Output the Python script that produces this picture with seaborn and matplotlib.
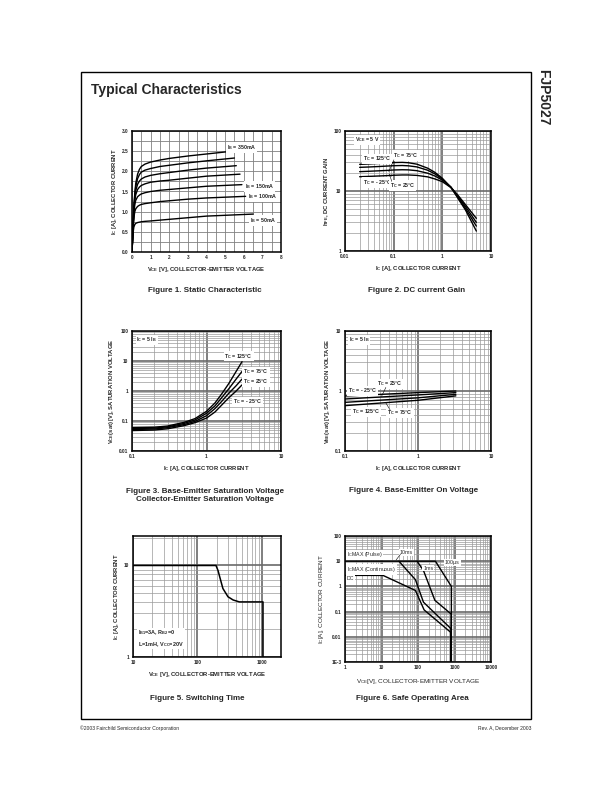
import numpy as np
import pandas as pd
import matplotlib
matplotlib.use('Agg')
import matplotlib.pyplot as plt
import seaborn as sns
from matplotlib.ticker import FixedLocator, LogLocator, NullFormatter, MultipleLocator
from matplotlib.patches import Rectangle

sns.set_theme(style='white')
plt.rcParams['font.family'] = ['Liberation Sans', 'DejaVu Sans']
plt.rcParams['mathtext.default'] = 'regular'

# ---------------- Figure 1 data: Static characteristic ----------------
f1_v_350 = [0, 0.05, 0.1, 0.15, 0.2, 0.3, 0.4, 0.5, 0.7, 1.0, 1.5, 2.0, 3.0, 4.0, 5.2]
f1_i_350 = [0, 0.55, 1.1, 1.45, 1.7, 1.93, 2.05, 2.12, 2.18, 2.23, 2.28, 2.32, 2.38, 2.43, 2.49]
f1_v_300 = [0, 0.05, 0.1, 0.15, 0.2, 0.3, 0.4, 0.5, 0.7, 1.0, 1.5, 2.0, 3.0, 4.0, 5.5]
f1_i_300 = [0, 0.55, 1.1, 1.42, 1.62, 1.82, 1.92, 1.98, 2.03, 2.07, 2.12, 2.15, 2.21, 2.26, 2.33]
f1_v_250 = [0, 0.05, 0.1, 0.15, 0.2, 0.3, 0.4, 0.5, 0.7, 1.0, 1.5, 2.0, 3.0, 4.0, 5.6]
f1_i_250 = [0, 0.55, 1.05, 1.35, 1.52, 1.68, 1.76, 1.81, 1.86, 1.9, 1.94, 1.97, 2.03, 2.08, 2.14]
f1_v_200 = [0, 0.05, 0.1, 0.15, 0.2, 0.3, 0.4, 0.5, 0.7, 1.0, 1.5, 2.0, 3.0, 4.0, 5.8]
f1_i_200 = [0, 0.5, 1.0, 1.28, 1.42, 1.55, 1.61, 1.65, 1.69, 1.73, 1.76, 1.78, 1.83, 1.88, 1.93]
f1_v_150 = [0, 0.05, 0.1, 0.15, 0.2, 0.3, 0.4, 0.5, 0.7, 1.0, 1.5, 2.0, 3.0, 4.0, 5.9]
f1_i_150 = [0, 0.5, 0.95, 1.18, 1.28, 1.37, 1.41, 1.44, 1.47, 1.5, 1.53, 1.55, 1.59, 1.63, 1.67]
f1_v_100 = [0, 0.05, 0.1, 0.15, 0.2, 0.3, 0.4, 0.5, 0.7, 1.0, 1.5, 2.0, 3.0, 4.0, 6.1]
f1_i_100 = [0, 0.5, 0.85, 1.0, 1.07, 1.13, 1.16, 1.18, 1.2, 1.22, 1.25, 1.27, 1.31, 1.34, 1.38]
f1_v_50 = [0, 0.05, 0.1, 0.15, 0.2, 0.3, 0.4, 0.5, 0.7, 1.0, 1.5, 2.0, 3.0, 4.0, 6.5]
f1_i_50 = [0, 0.45, 0.62, 0.68, 0.71, 0.73, 0.74, 0.75, 0.76, 0.77, 0.79, 0.81, 0.85, 0.89, 0.94]

# ---------------- Figure 2 data: DC current gain ----------------
f2_ic = [0.02, 0.03, 0.05, 0.07, 0.1, 0.15, 0.2, 0.3, 0.5, 0.7, 1.0, 1.5, 2.0, 3.0, 5.0]
f2_hfe_125 = [27.8, 28.2, 28.8, 29.3, 29.8, 30.0, 29.6, 28.0, 24.0, 20.5, 16.3, 11.5, 8.0, 4.8, 2.15]
f2_hfe_75 = [24.8, 25.1, 25.6, 26.0, 26.4, 26.6, 26.3, 25.2, 22.2, 19.3, 15.8, 11.6, 8.3, 5.1, 2.6]
f2_hfe_25 = [21.0, 21.3, 21.7, 22.0, 22.4, 22.6, 22.5, 21.8, 19.8, 17.8, 15.2, 11.6, 8.6, 5.5, 3.0]
f2_hfe_m25 = [17.3, 17.5, 17.8, 18.0, 18.3, 18.5, 18.5, 18.2, 17.2, 15.9, 14.3, 11.4, 8.9, 5.9, 3.5]

# ---------------- Figure 3 data: V_CE(sat) ----------------
f3_ic = [0.1, 0.2, 0.3, 0.5, 0.7, 1.0, 1.3, 1.6, 2.0, 2.5, 3.0]
f3_v_125 = [0.060, 0.062, 0.068, 0.09, 0.12, 0.21, 0.40, 0.80, 1.8, 4.5, 9.5]
f3_v_75 = [0.056, 0.058, 0.064, 0.083, 0.108, 0.18, 0.32, 0.60, 1.2, 2.5, 4.5]
f3_v_25 = [0.052, 0.054, 0.060, 0.076, 0.097, 0.15, 0.26, 0.45, 0.85, 1.5, 2.5]
f3_v_m25 = [0.048, 0.050, 0.055, 0.070, 0.088, 0.125, 0.20, 0.34, 0.60, 1.0, 1.6]

# ---------------- Figure 4 data: V_BE(sat) ----------------
f4_ic = [0.1, 1.0, 3.3]
f4_v_m25 = [0.825, 0.94, 1.0]
f4_v_25 = [0.736, 0.86, 0.94]
f4_v_75 = [0.647, 0.77, 0.88]
f4_v_125 = [0.57, 0.70, 0.83]

# ---------------- Figure 5 data ----------------
f5_vce = [10, 195, 210, 222, 250, 300, 360, 450, 1050, 1050]
f5_ic = [10, 10, 8.8, 7.6, 5.6, 4.55, 4.2, 4.0, 4.0, 1.0]

# ---------------- Figure 6 data: SOA ----------------
f6_v_100us = [1, 300, 820, 820]
f6_i_100us = [10, 10, 1.0, 0.001]
f6_v_1ms = [94, 141, 290, 810, 810]
f6_i_1ms = [10, 4.3, 0.28, 0.08, 0.001]
f6_v_10ms = [30, 85, 141, 800, 800]
f6_i_10ms = [10, 1.85, 0.237, 0.021, 0.001]
f6_v_dc = [1, 11, 85, 147, 790, 790]
f6_i_dc = [2.73, 2.73, 0.69, 0.117, 0.015, 0.001]

# ---------------- Figure layout ----------------
W, H = 612, 792
fig = plt.figure(figsize=(6.12, 7.92), dpi=100)
fig.patch.set_facecolor('white')


def px_axes(l, t, r, b):
    return fig.add_axes([l / W, 1 - b / H, (r - l) / W, (b - t) / H])


def fy(y):
    return 1 - y / H


TICK_FS = 3.4
LAB_FS = 4.2
ANN_FS = 3.8


def finish(ax, xticks, xlabels, yticks, ylabels, logx=False, logy=False, bold_ticks=True):
    if logx:
        ax.set_xscale('log')
    if logy:
        ax.set_yscale('log')
    ax.xaxis.set_major_locator(FixedLocator(xticks))
    ax.yaxis.set_major_locator(FixedLocator(yticks))
    w = 'bold' if bold_ticks else 'normal'
    ax.set_xticklabels(xlabels, fontsize=TICK_FS, fontweight=w)
    ax.set_yticklabels(ylabels, fontsize=TICK_FS, fontweight=w)
    if logx:
        ax.xaxis.set_minor_locator(LogLocator(base=10, subs=np.arange(2, 10), numticks=20))
        ax.xaxis.set_minor_formatter(NullFormatter())
    if logy:
        ax.yaxis.set_minor_locator(LogLocator(base=10, subs=np.arange(2, 10), numticks=20))
        ax.yaxis.set_minor_formatter(NullFormatter())
    ax.tick_params(which='both', length=0, pad=2.5)
    for s in ax.spines.values():
        s.set_visible(True)
        s.set_color('black')
        s.set_linewidth(1.1)
    ax.set_axisbelow(True)
    ax.grid(True, which='major', color='#6a6a6a', linewidth=1.2)
    ax.grid(True, which='minor', color='#9a9a9a', linewidth=0.5)


def curve(ax, x, y, lw=1.0):
    sns.lineplot(x=x, y=y, ax=ax, color='black', linewidth=lw, estimator=None, sort=False)


box = dict(facecolor='white', edgecolor='none', pad=0.6)
lead = dict(arrowstyle='-', color='black', linewidth=0.4, shrinkA=0, shrinkB=0)

# ---- Figure 1 ----
ax1 = px_axes(132, 131, 281, 252)
for v, i in [(f1_v_350, f1_i_350), (f1_v_300, f1_i_300), (f1_v_250, f1_i_250), (f1_v_200, f1_i_200),
             (f1_v_150, f1_i_150), (f1_v_100, f1_i_100), (f1_v_50, f1_i_50)]:
    curve(ax1, v, i)
ax1.set_xlim(0, 8)
ax1.set_ylim(0, 3)
finish(ax1, list(range(9)), [str(k) for k in range(9)],
       [0, 0.5, 1, 1.5, 2, 2.5, 3], ['0.0', '0.5', '1.0', '1.5', '2.0', '2.5', '3.0'])
ax1.xaxis.set_minor_locator(MultipleLocator(0.5))
ax1.yaxis.set_minor_locator(MultipleLocator(0.25))
ax1.grid(True, which='both', color='#808080', linewidth=0.6)
ax1.set_xlabel('V$_{CE}$ [V], COLLECTOR-EMITTER VOLTAGE', fontsize=LAB_FS, fontweight='bold', labelpad=3)
ax1.set_ylabel('I$_C$ [A], COLLECTOR CURRENT', fontsize=LAB_FS, fontweight='bold', labelpad=2)
for txt, xf, yf in [('I$_B$ = 350mA', 0.637, 0.865), ('I$_B$ = 150mA', 0.758, 0.54),
                    ('I$_B$ = 100mA', 0.78, 0.455), ('I$_B$ = 50mA', 0.79, 0.26)]:
    ax1.text(xf, yf, txt, transform=ax1.transAxes, fontsize=ANN_FS, fontweight='bold',
             va='center', ha='left', bbox=box)

# ---- Figure 2 ----
ax2 = px_axes(345, 131, 491, 251)
for h in [f2_hfe_125, f2_hfe_75, f2_hfe_25, f2_hfe_m25]:
    curve(ax2, f2_ic, h)
finish(ax2, [0.01, 0.1, 1, 10], ['0.01', '0.1', '1', '10'], [1, 10, 100], ['1', '10', '100'],
       logx=True, logy=True)
ax2.set_xlim(0.01, 10)
ax2.set_ylim(1, 100)
ax2.set_xlabel('I$_C$ [A], COLLECTOR CURRENT', fontsize=LAB_FS, fontweight='bold', labelpad=3)
ax2.set_ylabel('h$_{FE}$, DC CURRENT GAIN', fontsize=LAB_FS, fontweight='bold', labelpad=2)
ax2.text(0.068, 0.925, 'V$_{CE}$ = 5 V', transform=ax2.transAxes, fontsize=ANN_FS,
         fontweight='bold', va='center', bbox=box)
for txt, xf, yf in [('T$_C$ = 125°C', 0.123, 0.767), ('T$_C$ = 75°C', 0.329, 0.795),
                    ('T$_C$ = - 25°C', 0.123, 0.573), ('T$_C$ = 25°C', 0.308, 0.548)]:
    ax2.text(xf, yf, txt, transform=ax2.transAxes, fontsize=ANN_FS, fontweight='bold',
             va='center', bbox=box)
ax2.annotate('', xy=(0.30, 0.66), xytext=(0.335, 0.76), xycoords='axes fraction', arrowprops=lead)
ax2.annotate('', xy=(0.305, 0.64), xytext=(0.32, 0.58), xycoords='axes fraction', arrowprops=lead)

# ---- Figure 3 ----
ax3 = px_axes(132, 331, 281, 451)
for v in [f3_v_125, f3_v_75, f3_v_25, f3_v_m25]:
    curve(ax3, f3_ic, v)
finish(ax3, [0.1, 1, 10], ['0.1', '1', '10'], [0.01, 0.1, 1, 10, 100],
       ['0.01', '0.1', '1', '10', '100'], logx=True, logy=True)
ax3.set_xlim(0.1, 10)
ax3.set_ylim(0.01, 100)
ax3.set_xlabel('I$_C$ [A], COLLECTOR CURRENT', fontsize=LAB_FS, fontweight='bold', labelpad=3)
ax3.set_ylabel('V$_{CE}$(sat) [V], SATURATION VOLTAGE', fontsize=LAB_FS, fontweight='bold', labelpad=2)
ax3.text(0.03, 0.925, 'I$_C$ = 5 I$_B$', transform=ax3.transAxes, fontsize=ANN_FS,
         fontweight='bold', va='center', bbox=box)
for txt, xf, yf in [('T$_C$ = 125°C', 0.62, 0.79), ('T$_C$ = 75°C', 0.745, 0.66),
                    ('T$_C$ = 25°C', 0.745, 0.575), ('T$_C$ = - 25°C', 0.678, 0.41)]:
    ax3.text(xf, yf, txt, transform=ax3.transAxes, fontsize=ANN_FS, fontweight='bold',
             va='center', bbox=box)

# ---- Figure 4 ----
ax4 = px_axes(345, 331, 491, 451)
for v in [f4_v_m25, f4_v_25, f4_v_75, f4_v_125]:
    curve(ax4, f4_ic, v)
finish(ax4, [0.1, 1, 10], ['0.1', '1', '10'], [0.1, 1, 10], ['0.1', '1', '10'],
       logx=True, logy=True)
ax4.set_xlim(0.1, 10)
ax4.set_ylim(0.1, 10)
ax4.set_xlabel('I$_C$ [A], COLLECTOR CURRENT', fontsize=LAB_FS, fontweight='bold', labelpad=3)
ax4.set_ylabel('V$_{BE}$(sat) [V], SATURATION VOLTAGE', fontsize=LAB_FS, fontweight='bold', labelpad=2)
ax4.text(0.025, 0.925, 'I$_C$ = 5 I$_B$', transform=ax4.transAxes, fontsize=ANN_FS,
         fontweight='bold', va='center', bbox=box)
for txt, xf, yf in [('T$_C$ = 25°C', 0.22, 0.56), ('T$_C$ = - 25°C', 0.02, 0.50),
                    ('T$_C$ = 125°C', 0.048, 0.325), ('T$_C$ = 75°C', 0.29, 0.317)]:
    ax4.text(xf, yf, txt, transform=ax4.transAxes, fontsize=ANN_FS, fontweight='bold',
             va='center', bbox=box)
ax4.annotate('', xy=(0.25, 0.455), xytext=(0.28, 0.53), xycoords='axes fraction', arrowprops=lead)
ax4.annotate('', xy=(0.28, 0.40), xytext=(0.31, 0.34), xycoords='axes fraction', arrowprops=lead)

# ---- Figure 5 ----
ax5 = px_axes(133, 536, 281, 657)
curve(ax5, f5_vce, f5_ic, lw=1.1)
finish(ax5, [10, 100, 1000], ['10', '100', '1000'], [1, 10], ['1', '10'], logx=True, logy=True)
ax5.set_xlim(10, 2000)
ax5.set_ylim(1, 21)
ax5.set_xlabel('V$_{CE}$ [V], COLLECTOR-EMITTER VOLTAGE', fontsize=LAB_FS, fontweight='bold', labelpad=3)
ax5.set_ylabel('I$_C$ [A], COLLECTOR CURRENT', fontsize=LAB_FS, fontweight='bold', labelpad=2)
ax5.text(0.034, 0.07, 'I$_{B1}$=3A, R$_{B2}$=0\nL=1mH, V$_{CC}$=20V', transform=ax5.transAxes,
         fontsize=4.0, fontweight='bold', va='bottom', ha='left', linespacing=1.4, bbox=box)

# ---- Figure 6 ----
ax6 = px_axes(345, 536, 491, 662)
for v, i in [(f6_v_100us, f6_i_100us), (f6_v_1ms, f6_i_1ms), (f6_v_10ms, f6_i_10ms), (f6_v_dc, f6_i_dc)]:
    curve(ax6, v, i)
finish(ax6, [1, 10, 100, 1000, 10000], ['1', '10', '100', '1000', '10000'],
       [0.001, 0.01, 0.1, 1, 10, 100], ['1E-3', '0.01', '0.1', '1', '10', '100'],
       logx=True, logy=True)
ax6.set_xlim(1, 10000)
ax6.set_ylim(0.001, 100)
ax6.set_xlabel('V$_{CE}$[V], COLLECTOR-EMITTER VOLTAGE', fontsize=4.6, labelpad=5)
ax6.set_ylabel('I$_C$[A], COLLECTOR CURRENT', fontsize=4.6, labelpad=4)
for txt, xf, yf in [('I$_C$MAX (Pulse)', 0.014, 0.85), ('I$_C$MAX (Continuous)', 0.014, 0.735),
                    ('DC', 0.014, 0.665), ('10ms', 0.377, 0.87), ('1ms', 0.535, 0.745),
                    ('100µs', 0.685, 0.79)]:
    ax6.text(xf, yf, txt, transform=ax6.transAxes, fontsize=3.8, va='center', ha='left', bbox=box)
ax6.annotate('', xy=(0.35, 0.81), xytext=(0.38, 0.855), xycoords='axes fraction', arrowprops=lead)

# ---- Captions ----
cap_fs = 5.8
fig.text(205 / W, fy(291), 'Figure 1. Static Characteristic', fontsize=cap_fs, fontweight='bold',
         ha='center', va='center')
fig.text(417 / W, fy(291), 'Figure 2. DC current Gain', fontsize=cap_fs, fontweight='bold',
         ha='center', va='center')
fig.text(205 / W, fy(495.5), 'Figure 3. Base-Emitter Saturation Voltage\nCollector-Emitter Saturation Voltage',
         fontsize=cap_fs, fontweight='bold', ha='center', va='center', linespacing=1.05)
fig.text(414 / W, fy(491), 'Figure 4. Base-Emitter On Voltage', fontsize=cap_fs, fontweight='bold',
         ha='center', va='center')
fig.text(197 / W, fy(698), 'Figure 5. Switching Time', fontsize=cap_fs, fontweight='bold',
         ha='center', va='center')
fig.text(412 / W, fy(698), 'Figure 6. Safe Operating Area', fontsize=cap_fs, fontweight='bold',
         ha='center', va='center')

# ---- Page frame and header/footer ----
fig.patches.append(Rectangle((81 / W, fy(719)), (531 - 81) / W, (719 - 72) / H,
                             transform=fig.transFigure, fill=False, edgecolor='black', linewidth=1.0))
fig.text(91 / W, fy(90), 'Typical Characteristics', fontsize=10, fontweight='bold', va='center', ha='left')
fig.text(543 / W, fy(97), 'FJP5027', fontsize=10, fontweight='bold', rotation=-90, ha='center', va='center')
fig.text(80 / W, fy(728), '©2003 Fairchild Semiconductor Corporation', fontsize=3.6, va='center', ha='left')
fig.text(531 / W, fy(728), 'Rev. A, December 2003', fontsize=3.6, va='center', ha='right')

fig.savefig('out.png', dpi=100, facecolor='white')
